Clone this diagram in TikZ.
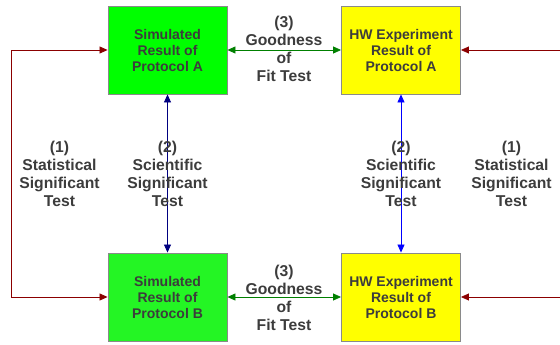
\documentclass[tikz,border=0pt]{standalone}
\usepackage{fontspec}
\setmainfont{Liberation Sans}
\usetikzlibrary{arrows.meta}
\definecolor{txtgray}{HTML}{3C3C3C}
\definecolor{boxgray}{HTML}{8A8A8A}
\definecolor{simgreenA}{HTML}{00FF00}
\definecolor{simgreenB}{HTML}{24F524}
\definecolor{hwyellow}{HTML}{FFFF00}
\definecolor{linkred}{HTML}{8B0000}
\definecolor{linkgreen}{HTML}{008000}
\definecolor{linknavy}{HTML}{000080}
\definecolor{linkblue}{HTML}{0000FF}
\tikzset{
  resbox/.style={draw=boxgray, line width=0.9pt, minimum width=119pt, minimum height=88pt,
    inner sep=0pt, align=center, text=txtgray,
    font=\fontsize{14}{16}\selectfont\bfseries},
  testlabel/.style={align=center, text=txtgray, inner sep=0pt,
    font=\fontsize{15.7}{18}\selectfont\bfseries},
  conn/.style={line width=0.8pt, arrows={-Triangle[length=8pt,width=7pt]}},
  dconn/.style={line width=0.8pt, arrows={Triangle[length=8pt,width=7pt]-Triangle[length=8pt,width=7pt]}}
}
\begin{document}
\begin{tikzpicture}[x=1pt,y=-1pt]
  \useasboundingbox (0,0) rectangle (560,345);

  % result boxes
  \node[resbox, fill=simgreenA] (simA) at (167.5,50) {Simulated\\Result of\\Protocol A};
  \node[resbox, fill=hwyellow]  (hwA)  at (401,50)   {HW Experiment\\Result of\\Protocol A};
  \node[resbox, fill=simgreenB] (simB) at (167.5,297) {Simulated\\Result of\\Protocol B};
  \node[resbox, fill=hwyellow]  (hwB)  at (401,297)  {HW Experiment\\Result of\\Protocol B};

  % loop corners and open ends of the statistical-test links
  \coordinate (lA) at (11.7,50);
  \coordinate (lB) at (11.7,297);
  \coordinate (rA) at (560,50);
  \coordinate (rB) at (560,297);

  % (1) statistical significance links
  \draw[dconn, draw=linkred] (simA.west) -- (lA) -- (lB) -- (simB.west);
  \draw[conn, draw=linkred] (rA) -- (hwA.east);
  \draw[conn, draw=linkred] (rB) -- (hwB.east);

  % (2) scientific significance links
  \draw[dconn, draw=linknavy] (simA) -- (simB);
  \draw[dconn, draw=linkblue] (hwA) -- (hwB);

  % (3) goodness of fit links
  \draw[dconn, draw=linkgreen] (simA) -- (hwA);
  \draw[dconn, draw=linkgreen] (simB) -- (hwB);

  % test labels
  \node[testlabel] (gofA) at (284,49)  {(3)\\Goodness\\of\\Fit Test};
  \node[testlabel] (gofB) at (284,298) {(3)\\Goodness\\of\\Fit Test};
  \node[testlabel] (statL) at (59.5,174) {(1)\\Statistical\\Significant\\Test};
  \node[testlabel] (sciL)  at (167.5,174) {(2)\\Scientific\\Significant\\Test};
  \node[testlabel] (sciR)  at (401,174) {(2)\\Scientific\\Significant\\Test};
  \node[testlabel] (statR) at (511.5,174) {(1)\\Statistical\\Significant\\Test};
\end{tikzpicture}
\end{document}
